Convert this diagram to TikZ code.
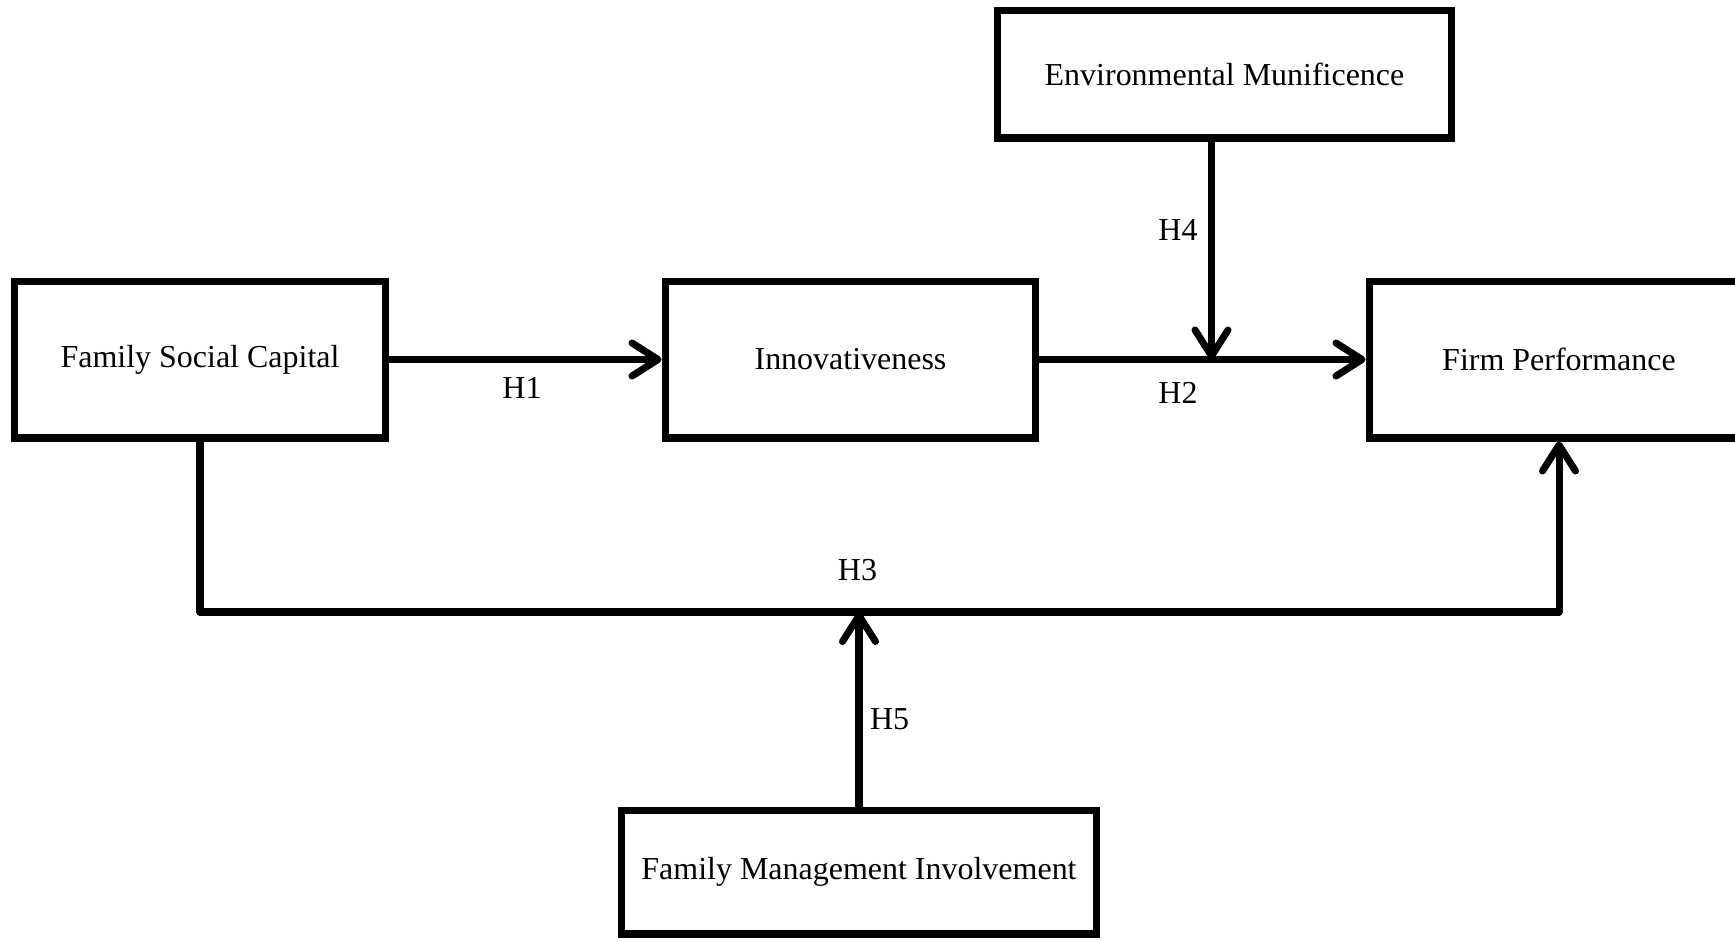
\documentclass[tikz,border=0pt]{standalone}
\usepackage{fontspec}
\setmainfont{Liberation Serif}
\usetikzlibrary{arrows.meta, positioning, calc}

\begin{document}
\begin{tikzpicture}[
    x=0.02cm, y=-0.02cm, font=\fontsize{18.2}{22}\selectfont,
    box/.style={draw, line width=4pt, rectangle, inner sep=0pt, align=center},
    arr/.style={line width=4pt, line join=round, -{Straight Barb[length=0.52cm, width=0.66cm, round]}},
    hyp/.style={inner sep=0pt},
  ]
  \useasboundingbox (0,0) rectangle (1735,940);
  % --- constructs ---
  \node[box, minimum width=7.42cm, minimum height=3.14cm] (fsc) at (200,359.5) {Family Social Capital};
  \node[box, minimum width=7.42cm, minimum height=3.14cm] (inno) at (850.5,359.5) {Innovativeness};
  \node[box, minimum width=7.6cm, minimum height=3.14cm] (fp) at (1559,359.5) {Firm Performance};
  \node[box, minimum width=9.1cm, minimum height=2.56cm] (em) at (1224.5,74) {Environmental Munificence};
  \node[box, minimum width=9.52cm, minimum height=2.48cm] (fmi) at (859,872) {Family Management Involvement};
  % --- direct paths ---
  \draw[arr] (fsc.east) -- (inno.west);
  \draw[arr] (inno.east) -- (fp.west);
  \coordinate (h3y) at (0,612);
  \draw[arr] (fsc.south) -- (fsc.south |- h3y) -- (fp.south |- h3y) -- (fp.south);
  % --- moderators ---
  \draw[arr] ([xshift=-0.26cm]em.south) -- ([xshift=-0.26cm]em.south |- inno.east);
  \draw[arr] (fmi.north) -- (fmi.north |- h3y);
  % --- hypotheses ---
  \node[hyp] (h1) at (522,388) {H1};
  \node[hyp] (h2) at (1178,393) {H2};
  \node[hyp] (h3) at (857.5,570) {H3};
  \node[hyp] (h4) at (1178,230) {H4};
  \node[hyp] (h5) at (889.6,719) {H5};
\end{tikzpicture}
\end{document}
